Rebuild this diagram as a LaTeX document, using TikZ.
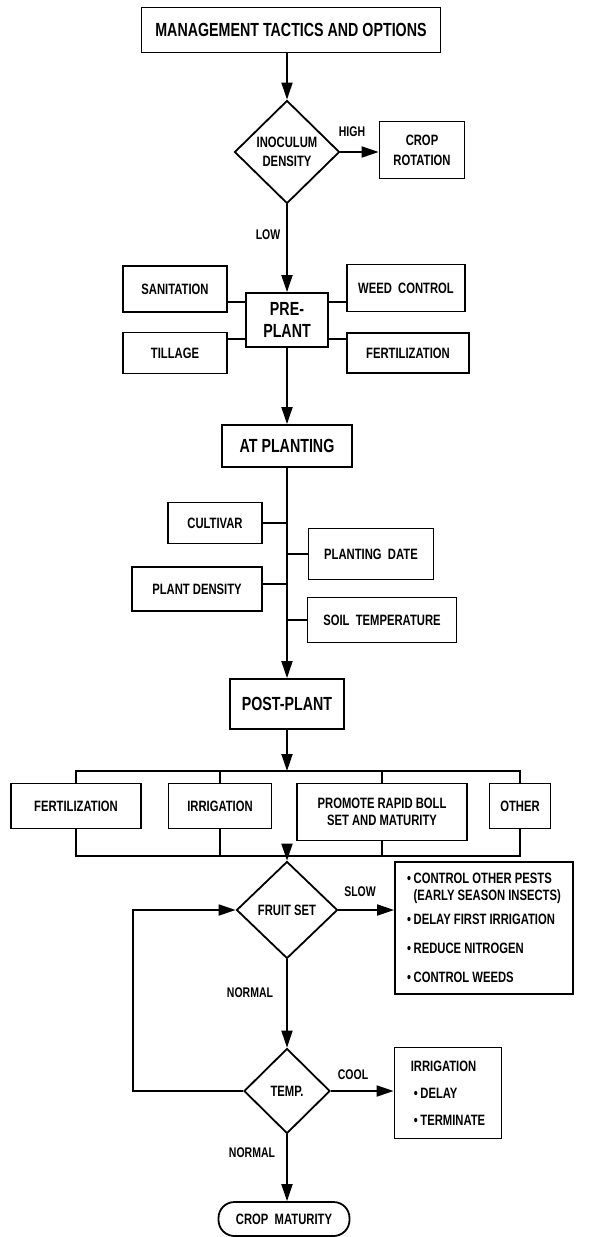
\documentclass[tikz,border=0pt]{standalone}
\usepackage{fontspec}
\newfontfamily\cf{Liberation Sans}[FakeStretch=0.75]
\usetikzlibrary{shapes.geometric,arrows.meta}
\tikzset{
  ln/.style={line width=1.8pt},
  arr/.style={ln,-{Triangle[length=17pt,width=11pt]}},
  bx/.style={draw,ln,inner sep=0pt,align=center,font=\cf\bfseries\fontsize{15}{19}\selectfont},
  bigbx/.style={bx,font=\cf\bfseries\fontsize{19}{22}\selectfont},
  dia/.style={diamond,draw,ln,inner sep=0pt,align=center,font=\cf\bfseries\fontsize{15}{19}\selectfont},
  lab/.style={inner sep=0pt,font=\cf\bfseries\fontsize{14}{15}\selectfont},
}
\begin{document}
\begin{tikzpicture}[x=1pt,y=-1pt]
\useasboundingbox (0,0) rectangle (590,1237);
% main column
\node[bigbx,minimum width=299,minimum height=45] (title) at (291,30) {MANAGEMENT TACTICS AND OPTIONS};
\node[dia,minimum width=105,minimum height=103] (d1) at (287,152) {INOCULUM\\DENSITY};
\node[bx,minimum width=85,minimum height=57,font=\cf\bfseries\fontsize{15}{20}\selectfont] (crop) at (422,150) {CROP\\ROTATION};
\node[lab] (high) at (352,132) {HIGH};
\node[lab] (low) at (268,235) {LOW};
\node[bigbx,minimum width=82,minimum height=54] (pre) at (287,320) {PRE-\\PLANT};
\node[bx,minimum width=104,minimum height=46] (san) at (175,289) {SANITATION};
\node[bx,minimum width=118,minimum height=47] (weed) at (406,288) {WEED\ \ CONTROL};
\node[bx,minimum width=104,minimum height=41] (till) at (175,353) {TILLAGE};
\node[bx,minimum width=122,minimum height=40] (ferta) at (408,353) {FERTILIZATION};
\node[bigbx,minimum width=130,minimum height=42] (atp) at (287,446) {AT PLANTING};
\node[bx,minimum width=94,minimum height=41] (cult) at (215,523) {CULTIVAR};
\node[bx,minimum width=125,minimum height=51] (pdate) at (371,554) {PLANTING\ \ DATE};
\node[bx,minimum width=130,minimum height=44] (pdens) at (197,589) {PLANT DENSITY};
\node[bx,minimum width=149,minimum height=45] (soil) at (382,620) {SOIL\ \ TEMPERATURE};
\node[bigbx,minimum width=114,minimum height=50] (post) at (287,704) {POST-PLANT};
\node[bx,minimum width=130,minimum height=45] (fertb) at (76,806) {FERTILIZATION};
\node[bx,minimum width=103,minimum height=45] (irr) at (220,806) {IRRIGATION};
\node[bx,minimum width=170,minimum height=57,font=\cf\bfseries\fontsize{15}{17}\selectfont] (prom) at (382,812) {PROMOTE RAPID BOLL\\SET AND MATURITY};
\node[bx,minimum width=61,minimum height=45] (other) at (520,806) {OTHER};
\coordinate (bt) at (0,771);
\coordinate (bb) at (0,856);
\node[dia,minimum width=101,minimum height=97] (d2) at (287,910) {FRUIT SET};
\node[lab] (slow) at (360,892) {SLOW};
\node[bx,minimum width=178,minimum height=132,align=left,font=\cf\bfseries\fontsize{15}{17}\selectfont] (rbox) at (484,928)
  {•\,CONTROL OTHER PESTS\\\hphantom{•\,}(EARLY SEASON INSECTS)\\[7pt]•\,DELAY FIRST IRRIGATION\\[12pt]•\,REDUCE NITROGEN\\[12pt]•\,CONTROL WEEDS};
\node[lab] (norm1) at (250,993) {NORMAL};
\node[dia,minimum width=86,minimum height=85] (d3) at (287,1091) {TEMP.};
\coordinate (loop) at (133,0);
\node[lab] (cool) at (353,1075) {COOL};
\node[bx,minimum width=107,minimum height=91,align=left,font=\cf\bfseries\fontsize{15}{27}\selectfont] (irb) at (448,1093)
  {IRRIGATION\\\ •\,DELAY\\\ •\,TERMINATE};
\node[lab] (norm2) at (252,1153) {NORMAL};
\node[bx,minimum width=131,minimum height=34,rounded corners=16pt] (mat) at (284,1219) {CROP\ \ MATURITY};
% connectors
\draw[arr] (title.south -| d1) -- (d1.north);
\draw[arr] (d1.east) -- (crop.west |- d1.east);
\draw[arr] (d1.south) -- (pre.north);
\draw[ln] ([yshift=-13pt]san.east) -- ([yshift=-13pt]san.east -| pre.west);
\draw[ln] ([yshift=14pt]till.east) -- ([yshift=14pt]till.east -| pre.west);
\draw[ln] ([yshift=-14pt]weed.west) -- ([yshift=-14pt]weed.west -| pre.east);
\draw[ln] ([yshift=14pt]ferta.west) -- ([yshift=14pt]ferta.west -| pre.east);
\draw[arr] (pre.south) -- (atp.north);
\draw[arr] (atp.south) -- (post.north);
\draw[ln] (cult.east) -- (cult.east -| atp.south);
\draw[ln] (pdate.west) -- (pdate.west -| atp.south);
\draw[ln] ([yshift=5pt]pdens.east) -- ([yshift=5pt]pdens.east -| atp.south);
\draw[ln] (soil.west) -- (soil.west -| atp.south);
\draw[arr] (post.south) -- (post.south |- bt);
\draw[ln] (fertb.north) -- (fertb.north |- bt) -- (other.north |- bt) -- (other.north);
\draw[ln] (irr.north) -- (irr.north |- bt);
\draw[ln] (prom.north) -- (prom.north |- bt);
\draw[ln] (fertb.south) -- (fertb.south |- bb) -- (other.south |- bb) -- (other.south);
\draw[ln] (irr.south) -- (irr.south |- bb);
\draw[ln] (prom.south) -- (prom.south |- bb);
\draw[arr] (d2.north |- bb) -- (d2.north);
\draw[arr] (d2.east) -- (rbox.west |- d2.east);
\draw[arr] (d2.south) -- (d3.north);
\draw[arr] (d3.west) -- (d3.west -| loop) -- (d2.west -| loop) -- (d2.west);
\draw[arr] (d3.east) -- (irb.west |- d3.east);
\draw[arr] (d3.south) -- (d3.south |- mat.north);
\end{tikzpicture}
\end{document}
